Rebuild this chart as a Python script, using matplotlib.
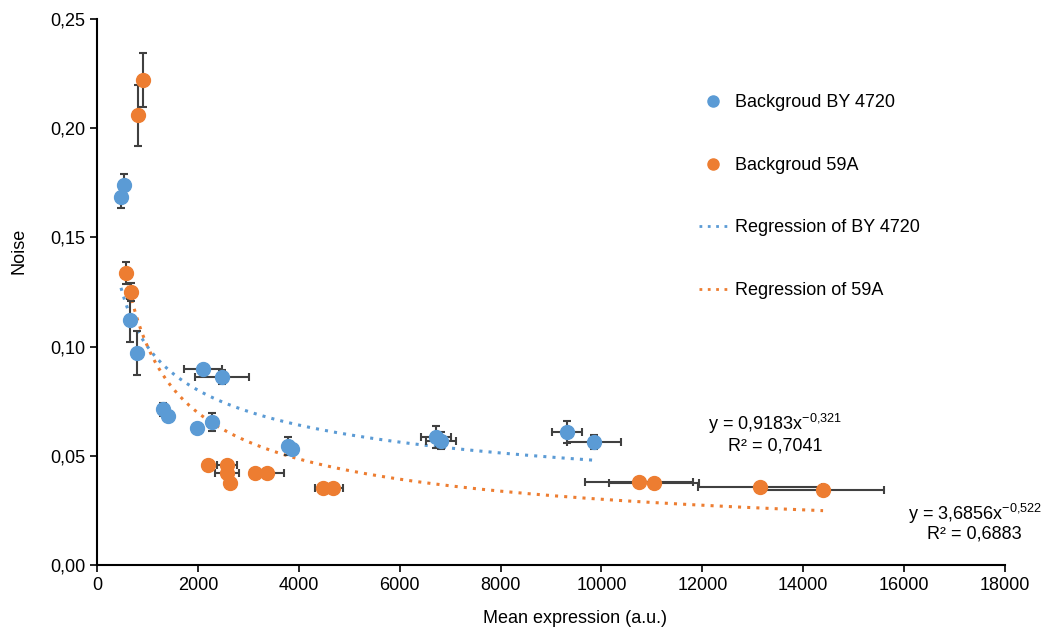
import numpy as np
import matplotlib
matplotlib.use("Agg")
import matplotlib.pyplot as plt
from matplotlib.lines import Line2D
from matplotlib.ticker import FuncFormatter

plt.rcParams['font.family'] = ['Liberation Sans', 'DejaVu Sans']
plt.rcParams['mathtext.fontset'] = 'custom'
plt.rcParams['mathtext.rm'] = 'Liberation Sans'

# Backgroud BY 4720 : mean expression, noise, x error, y error
by_x = [476, 535, 654, 793, 2101, 2478, 1308, 1408, 1983, 2280, 3787, 3860, 6720, 6820, 9318, 9853]
by_y = [0.1685, 0.174, 0.112, 0.097, 0.0897, 0.0861, 0.0714, 0.0682, 0.0627, 0.0655,
        0.0545, 0.053, 0.0585, 0.057, 0.0609, 0.0563]
by_xerr = [0, 0, 0, 0, 370, 530, 0, 0, 0, 0, 0, 0, 300, 300, 300, 540]
by_yerr = [0.005, 0.005, 0.010, 0.010, 0, 0.003, 0.003, 0, 0, 0.004, 0.004, 0, 0.005, 0.004, 0.005, 0.003]

# Backgroud 59A
a59_x = [912, 813, 575, 674, 2201, 2577, 2577, 2637, 3132, 3370, 4480, 4679, 10745, 11043, 13144, 14393]
a59_y = [0.222, 0.206, 0.1337, 0.125, 0.0458, 0.0458, 0.0421, 0.0375, 0.0421, 0.0421,
         0.0353, 0.0353, 0.038, 0.0375, 0.0357, 0.0343]
a59_xerr = [0, 0, 0, 0, 0, 190, 240, 0, 0, 330, 160, 200, 1070, 900, 1230, 1210]
a59_yerr = [0.0125, 0.014, 0.005, 0.004, 0, 0, 0, 0, 0, 0, 0, 0, 0, 0, 0.002, 0]

# power-law regressions  y = a * x^b
by_fit = (0.9183, -0.321)
a59_fit = (3.6856, -0.522)

blue = '#5B9BD5'
orange = '#ED7D31'
grey = '#404040'

fig = plt.figure(figsize=(10.43, 6.31), dpi=100)
ax = fig.add_axes([0.093, 0.1046, 0.8706, 0.8653])

for xs, ys, xe, ye, col in [(by_x, by_y, by_xerr, by_yerr, blue),
                            (a59_x, a59_y, a59_xerr, a59_yerr, orange)]:
    ax.errorbar(xs, ys, xerr=xe, yerr=ye, fmt='none', ecolor=grey, elinewidth=1.5,
                capsize=3, capthick=1.5, zorder=2)
    ax.plot(xs, ys, 'o', color=col, markersize=10, zorder=3)

# trendlines over each series' range
for xs, fit, col in [(by_x, by_fit, blue), (a59_x, a59_fit, orange)]:
    xx = np.linspace(min(xs), max(xs), 400)
    ax.plot(xx, fit[0] * xx ** fit[1], linestyle=(0, (1, 2)), color=col, lw=2.2, zorder=1)

ax.text(13440, 0.0645, r'y = 0,9183x$^{\mathregular{-0{,}321}}$', ha='center', va='center', fontsize=13)
ax.text(13440, 0.0545, 'R² = 0,7041', ha='center', va='center', fontsize=13)
ax.text(17400, 0.0235, r'y = 3,6856x$^{\mathregular{-0{,}522}}$', ha='center', va='center', fontsize=13)
ax.text(17400, 0.0143, 'R² = 0,6883', ha='center', va='center', fontsize=13)

ax.set_xlim(0, 18000)
ax.set_ylim(0, 0.25)
ax.set_xticks(np.arange(0, 18001, 2000))
ax.set_yticks(np.arange(0, 0.2501, 0.05))
ax.yaxis.set_major_formatter(FuncFormatter(lambda v, p: f'{v:.2f}'.replace('.', ',')))
ax.spines['top'].set_visible(False)
ax.spines['right'].set_visible(False)
ax.spines['left'].set_linewidth(1.5)
ax.spines['bottom'].set_linewidth(1.5)
ax.tick_params(direction='out', length=5, width=1.2, labelsize=13)
ax.set_xlabel('Mean expression (a.u.)', fontsize=13)
ax.set_ylabel('Noise', fontsize=13)
ax.xaxis.set_label_coords(0.526, -0.083)
ax.yaxis.set_label_coords(-0.077, 0.575)

handles = [
    Line2D([], [], marker='o', ls='none', color=blue, markersize=8),
    Line2D([], [], marker='o', ls='none', color=orange, markersize=8),
    Line2D([], [], ls=(0, (1, 2)), color=blue, lw=2),
    Line2D([], [], ls=(0, (1, 2)), color=orange, lw=2),
]
labels = ['Backgroud BY 4720', 'Backgroud 59A', 'Regression of BY 4720', 'Regression of 59A']
ax.legend(handles, labels, loc='upper left', bbox_to_anchor=(0.663, 0.862), frameon=False,
          fontsize=13, labelspacing=2.52, handlelength=1.6, handletextpad=0.4,
          borderpad=0, borderaxespad=0)

fig.savefig('out.png', dpi=100)
